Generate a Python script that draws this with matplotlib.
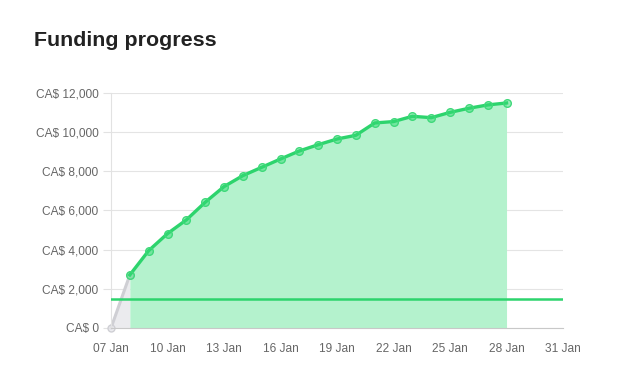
import matplotlib.pyplot as plt
import numpy as np

plt.rcParams['font.family'] = ['Liberation Sans', 'DejaVu Sans']

# days of January
start_days = [7, 8]
start_vals = [0, 2710]
days = list(range(8, 29))
funding = [2710, 3950, 4820, 5520, 6420, 7220, 7780, 8205, 8630, 9040, 9360,
           9650, 9840, 10470, 10540, 10810, 10740, 11010, 11220, 11390, 11490]
goal_line = 1500
xticks = [7, 10, 13, 16, 19, 22, 25, 28, 31]
xlabels = ["%02d Jan" % d for d in xticks]
yticks = [0, 2000, 4000, 6000, 8000, 10000, 12000]
ylabels = ["CA$ {:,}".format(v) for v in yticks]

green = '#2dd46d'
fig = plt.figure(figsize=(6.24, 3.86), dpi=100)
ax = fig.add_axes([0.1779, 0.1503, 0.7244, 0.6088])

# gray lead-in segment
ax.fill_between(start_days, start_vals, color='#ebebee', lw=0, zorder=1)
ax.plot(start_days, start_vals, color='#cfcfd4', lw=2.2, zorder=2,
        marker='o', ms=5, mfc=(0.9, 0.9, 0.92, 0.8), mec='#cfcfd4', mew=1,
        clip_on=False)

# funding
ax.fill_between(days, funding, color='#b4f2cd', lw=0, zorder=1)
ax.plot(days, funding, color=green, lw=2.4, zorder=3,
        marker='o', ms=5.5, mfc=(0.2, 0.85, 0.45, 0.5), mec='#3fd97a', mew=1,
        clip_on=False)

ax.axhline(goal_line, color=green, lw=1.8, zorder=4)

ax.set_xlim(7, 31)
ax.set_ylim(0, 12000)
ax.set_xticks(xticks)
ax.set_xticklabels(xlabels)
ax.set_yticks(yticks)
ax.set_yticklabels(ylabels)
ax.tick_params(axis='y', length=6, width=0.8, color='#e2e2e2', pad=3,
               labelsize=8.6, labelcolor='#666666')
ax.tick_params(axis='x', length=0, pad=11, labelsize=8.6, labelcolor='#666666')
ax.grid(axis='y', color='#e4e4e4', lw=0.8, zorder=0)
ax.set_axisbelow(True)
for s in ['top', 'right']:
    ax.spines[s].set_visible(False)
ax.spines['left'].set_color('#e2e2e2')
ax.spines['left'].set_linewidth(0.8)
ax.spines['bottom'].set_color('#c8c8c8')
ax.spines['bottom'].set_linewidth(0.8)

fig.text(34 / 624, 1 - 40 / 386, "Funding progress", fontsize=15.4,
         fontweight='bold', color='#222222', va='center', ha='left')

fig.savefig('out.png', dpi=100)
